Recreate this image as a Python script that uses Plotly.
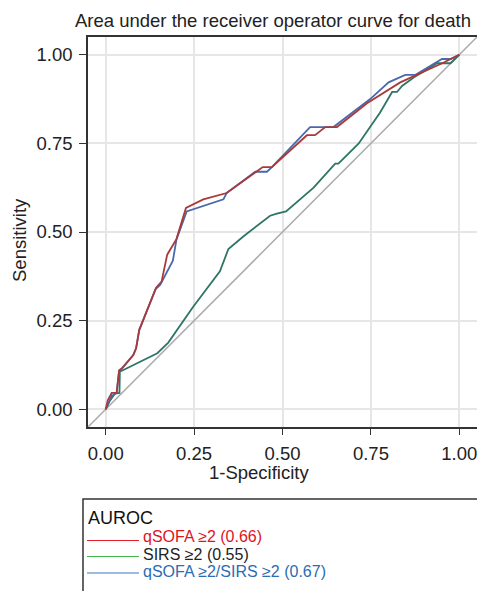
import plotly.graph_objects as go

# ---- data ----
qsofa_fpr = [0, 0.006, 0.017, 0.031, 0.038, 0.045, 0.078, 0.086, 0.095, 0.142, 0.158, 0.174, 0.200, 0.227,
             0.276, 0.342, 0.444, 0.470, 0.569, 0.592, 0.621, 0.654, 0.739, 0.833, 0.956, 1.0]
qsofa_tpr = [0, 0.025, 0.046, 0.046, 0.110, 0.115, 0.153, 0.172, 0.224, 0.342, 0.360, 0.436, 0.480, 0.568,
             0.592, 0.610, 0.683, 0.683, 0.773, 0.773, 0.796, 0.796, 0.863, 0.922, 0.978, 1.0]

sirs_fpr = [0, 0.010, 0.026, 0.039, 0.040, 0.146, 0.177, 0.248, 0.323, 0.347, 0.390, 0.465, 0.484, 0.510,
            0.588, 0.649, 0.658, 0.715, 0.776, 0.810, 0.824, 0.838, 0.871, 0.937, 0.975, 1.0]
sirs_tpr = [0, 0.021, 0.044, 0.046, 0.106, 0.158, 0.188, 0.290, 0.389, 0.452, 0.488, 0.546, 0.552, 0.558,
            0.625, 0.693, 0.693, 0.749, 0.837, 0.895, 0.895, 0.912, 0.936, 0.976, 0.976, 1.0]

comb_fpr = [0, 0.008, 0.017, 0.031, 0.038, 0.045, 0.078, 0.086, 0.095, 0.142, 0.154, 0.190, 0.200, 0.229,
            0.333, 0.342, 0.423, 0.456, 0.470, 0.578, 0.644, 0.748, 0.800, 0.847, 0.875, 0.951, 0.975, 1.0]
comb_tpr = [0, 0.020, 0.038, 0.046, 0.108, 0.113, 0.153, 0.172, 0.224, 0.340, 0.351, 0.419, 0.478, 0.558,
            0.592, 0.610, 0.670, 0.670, 0.683, 0.796, 0.796, 0.875, 0.922, 0.943, 0.943, 0.988, 0.988, 1.0]

ref_line = [-0.05, 1.05]

legend_title = "AUROC"
legend_labels = ["qSOFA ≥2 (0.66)", "SIRS ≥2 (0.55)", "qSOFA ≥2/SIRS ≥2 (0.67)"]
legend_line_colors = ["#e3212b", "#3fb54b", "#3b79c2"]
legend_text_colors = ["#e0141e", "#222222", "#2b6cb3"]

tick_vals = [0, 0.25, 0.5, 0.75, 1.0]
tick_text = ["0.00", "0.25", "0.50", "0.75", "1.00"]

FONT = "Liberation Sans, Arial, sans-serif"
FS = 18.5

fig = go.Figure()
fig.add_trace(go.Scatter(x=ref_line, y=ref_line, mode="lines",
                         line=dict(color="#aaaaaa", width=1.5), showlegend=False, hoverinfo="skip"))
fig.add_trace(go.Scatter(x=sirs_fpr, y=sirs_tpr, mode="lines",
                         line=dict(color="#2e7566", width=1.8), showlegend=False))
fig.add_trace(go.Scatter(x=comb_fpr, y=comb_tpr, mode="lines",
                         line=dict(color="#4a68ab", width=1.8), showlegend=False))
fig.add_trace(go.Scatter(x=qsofa_fpr, y=qsofa_tpr, mode="lines",
                         line=dict(color="#a83a3c", width=1.8), showlegend=False))

W, H = 477, 591
L, R, T = 88, 0, 37
B = H - 427
pw, ph = W - L - R, H - T - B

def px(x):  # page pixel -> paper x
    return (x - L) / pw

def py(y):  # page pixel -> paper y
    return (H - B - y) / ph

shapes = [dict(type="rect", xref="paper", yref="paper",
               x0=px(83), x1=px(520), y0=py(499), y1=py(640),
               line=dict(color="#333333", width=1.5), fillcolor="rgba(0,0,0,0)")]
annotations = [
    dict(text=legend_title, xref="paper", yref="paper", x=px(86), y=py(518),
         xanchor="left", yanchor="middle", showarrow=False,
         font=dict(family=FONT, size=18, color="#111111")),
    dict(text="1-Specificity", xref="paper", yref="paper", x=px(259), y=py(472),
         xanchor="center", yanchor="middle", showarrow=False,
         font=dict(family=FONT, size=FS, color="#222222")),
    dict(text="Sensitivity", xref="paper", yref="paper", x=px(20), y=py(240),
         xanchor="center", yanchor="middle", showarrow=False, textangle=-90,
         font=dict(family=FONT, size=FS, color="#222222")),
    dict(text="Area under the receiver operator curve for death", xref="paper", yref="paper",
         x=px(273), y=py(21), xanchor="center", yanchor="middle", showarrow=False,
         font=dict(family=FONT, size=FS, color="#222222")),
]
line_ys = [540.5, 556.5, 573]
text_ys = [536, 554, 571.5]
for lab, lc, tc, ly, ty in zip(legend_labels, legend_line_colors, legend_text_colors, line_ys, text_ys):
    shapes.append(dict(type="line", xref="paper", yref="paper", x0=px(87), x1=px(139),
                       y0=py(ly), y1=py(ly), line=dict(color=lc, width=1.2)))
    annotations.append(dict(text=lab, xref="paper", yref="paper", x=px(140.5), y=py(ty),
                            xanchor="left", yanchor="middle", showarrow=False,
                            font=dict(family=FONT, size=16, color=tc)))

fig.update_layout(
    width=W, height=H,
    margin=dict(l=L, r=R, t=T, b=B, pad=0),
    paper_bgcolor="white", plot_bgcolor="white",
    font=dict(family=FONT, size=FS, color="#222222"),
    shapes=shapes, annotations=annotations,
    xaxis=dict(range=[-0.05, 1.05], tickvals=tick_vals, ticktext=tick_text,
               showgrid=True, gridcolor="#e6e6e6", gridwidth=1.5, zeroline=False,
               showline=True, linecolor="#333333", linewidth=1.5, mirror=True,
               ticks="outside", ticklen=6, tickcolor="#333333", tickwidth=1.2,
               ticklabelstandoff=3, ticklabeloverflow="allow",
               tickfont=dict(size=FS, color="#222222")),
    yaxis=dict(range=[-0.05, 1.05], tickvals=tick_vals, ticktext=tick_text,
               showgrid=True, gridcolor="#e6e6e6", gridwidth=1.5, zeroline=False,
               showline=True, linecolor="#333333", linewidth=1.5, mirror=False,
               ticks="outside", ticklen=7, tickcolor="#333333", tickwidth=1.2,
               ticklabelstandoff=3, ticklabeloverflow="allow",
               tickfont=dict(size=FS, color="#222222")),
)

fig.write_html(
    "out.html",
    config={"displayModeBar": False},
    post_script=("document.documentElement.style.overflow='hidden';"
                 "document.body.style.margin='0';document.body.style.overflow='hidden';"),
)
